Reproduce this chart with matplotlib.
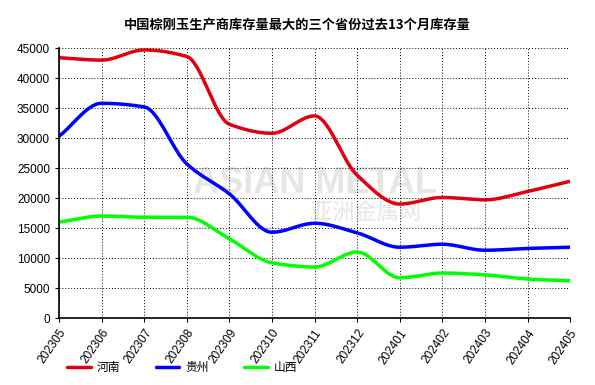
import numpy as np
import matplotlib.pyplot as plt

months = ["202305", "202306", "202307", "202308", "202309", "202310", "202311",
          "202312", "202401", "202402", "202403", "202404", "202405"]
henan = [43400, 43000, 44700, 43600, 32300, 30800, 33700, 23800, 19000, 20100, 19700, 21100, 22800]
guizhou = [30300, 35800, 35200, 25700, 20700, 14300, 15800, 14200, 11800, 12300, 11300, 11600, 11800]
shanxi = [16000, 17000, 16800, 16800, 13200, 9200, 8500, 11000, 6700, 7500, 7200, 6500, 6200]

series = [("河南", henan, "#e00010"), ("贵州", guizhou, "#0000ff"), ("山西", shanxi, "#00ff00")]

plt.rcParams['font.family'] = ['Liberation Sans', 'Noto Sans CJK SC', 'DejaVu Sans']


def smooth(y, n=20):
    # monotone cubic (Fritsch-Carlson) for drawing only
    y = np.asarray(y, dtype=float)
    x = np.arange(len(y), dtype=float)
    d = np.diff(y)
    m = np.zeros_like(y)
    m[0], m[-1] = d[0], d[-1]
    for i in range(1, len(y) - 1):
        if d[i - 1] * d[i] > 0:
            m[i] = 2 / (1 / d[i - 1] + 1 / d[i])
    xs, ys = [], []
    for i in range(len(y) - 1):
        t = np.linspace(0, 1, n, endpoint=False)
        h00 = 2 * t**3 - 3 * t**2 + 1
        h10 = t**3 - 2 * t**2 + t
        h01 = -2 * t**3 + 3 * t**2
        h11 = t**3 - t**2
        xs.append(x[i] + t)
        ys.append(h00 * y[i] + h10 * m[i] + h01 * y[i + 1] + h11 * m[i + 1])
    xs.append([x[-1]])
    ys.append([y[-1]])
    return np.concatenate(xs), np.concatenate(ys)


fig = plt.figure(figsize=(5.95, 3.85), dpi=100)
ax = fig.add_axes([0.0992, 0.174, 0.859, 0.701])

for nom, vals, col in series:
    sx, sy = smooth(vals)
    ax.plot(sx, sy, color=col, lw=2.5, label=nom, solid_capstyle='round')

ax.set_xlim(0, len(months) - 1)
ax.set_ylim(0, 45000)
ax.set_yticks(range(0, 45001, 5000))
ax.set_xticks(range(len(months)))
ax.set_xticklabels(months, rotation=55, ha='right', rotation_mode='anchor', fontsize=8.5)
ax.tick_params(axis='y', labelsize=8.5, length=3)
ax.tick_params(axis='x', length=3)
ax.grid(True, color='black', linestyle=(0, (1, 2)), linewidth=0.7)
ax.spines['top'].set_visible(False)
ax.spines['right'].set_visible(False)
ax.spines['left'].set_linewidth(1.2)
ax.spines['bottom'].set_linewidth(1.2)

# filigrane
ax.text(0.5, 0.5, "ASIAN METAL", transform=ax.transAxes, fontsize=26, fontweight='bold',
        color='#e6e6e6', ha='center', va='center', zorder=0)
ax.text(0.6, 0.39, "亚洲金属网", transform=ax.transAxes, fontsize=16,
        color='#e6e6e6', ha='center', va='center', zorder=0, family='Noto Sans CJK SC')

fig.suptitle("中国棕刚玉生产商库存量最大的三个省份过去13个月库存量", x=0.5, y=0.955,
             fontsize=9.5, fontweight='bold', family=['Noto Sans CJK SC', 'DejaVu Sans'])

fig.legend(loc='lower left', bbox_to_anchor=(0.095, 0.0), ncol=3, frameon=False,
           fontsize=8.5, handlelength=2.0, columnspacing=3.0, handletextpad=0.5,
           prop={'family': ['Noto Sans CJK SC'], 'size': 8.5})

fig.savefig("out.png", dpi=100)
